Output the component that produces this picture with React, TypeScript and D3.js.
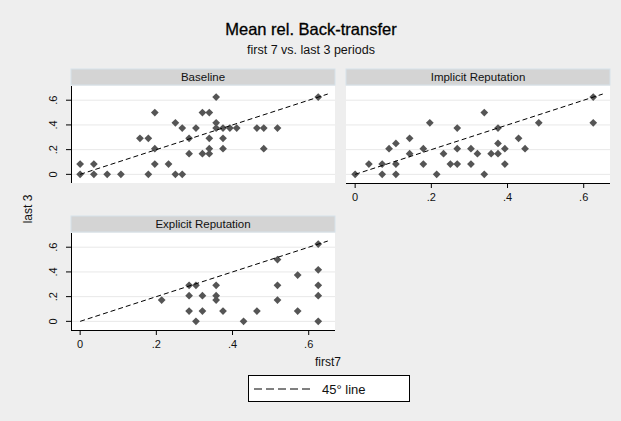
import React from "react";
import * as d3 from "d3";

// first7 / last3 pairs per treatment
const baselineFirst7 = [0, 0, 0.036, 0.036, 0.071, 0.107, 0.157, 0.179, 0.179, 0.196, 0.196, 0.196, 0.232, 0.25, 0.25, 0.268, 0.268, 0.286, 0.286, 0.304, 0.321, 0.339, 0.321, 0.339, 0.339, 0.339, 0.357, 0.357, 0.357, 0.375, 0.375, 0.375, 0.393, 0.411, 0.464, 0.482, 0.482, 0.518, 0.625];
const baselineLast3 = [0.083, 0, 0.083, 0, 0, 0, 0.292, 0.292, 0, 0.5, 0.208, 0.083, 0.083, 0.417, 0, 0, 0.375, 0.292, 0.167, 0.375, 0.5, 0.5, 0.167, 0.167, 0.292, 0.208, 0.625, 0.417, 0.375, 0.375, 0.292, 0.208, 0.375, 0.375, 0.375, 0.375, 0.208, 0.375, 0.625];

const implicitFirst7 = [0, 0.036, 0.071, 0.071, 0.089, 0.107, 0.107, 0.107, 0.143, 0.143, 0.179, 0.179, 0.196, 0.214, 0.232, 0.25, 0.268, 0.268, 0.268, 0.304, 0.304, 0.321, 0.339, 0.339, 0.357, 0.375, 0.375, 0.375, 0.393, 0.393, 0.429, 0.446, 0.482, 0.625, 0.625];
const implicitLast3 = [0, 0.083, 0.083, 0, 0.208, 0.25, 0.083, 0, 0.292, 0.167, 0.208, 0.083, 0.417, 0, 0.167, 0.083, 0.375, 0.208, 0.083, 0.208, 0.083, 0.167, 0.5, 0, 0.167, 0.375, 0.25, 0.167, 0.208, 0.083, 0.292, 0.208, 0.417, 0.625, 0.417];

const explicitFirst7 = [0.214, 0.286, 0.286, 0.286, 0.304, 0.304, 0.321, 0.321, 0.357, 0.357, 0.357, 0.375, 0.429, 0.464, 0.518, 0.518, 0.518, 0.571, 0.571, 0.625, 0.625, 0.625, 0.625, 0.625];
const explicitLast3 = [0.172, 0.292, 0.208, 0.083, 0.292, 0, 0.208, 0.083, 0.292, 0.208, 0.172, 0.083, 0, 0.083, 0.5, 0.292, 0.172, 0.375, 0.083, 0.625, 0.417, 0.292, 0.208, 0];

const xTicks = [0, 0.2, 0.4, 0.6];
const yTicks = [0, 0.2, 0.4, 0.6];
const tickLabel = (v: number) => (v === 0 ? "0" : d3.format(".1f")(v).replace(/^0/, ""));
const lineRange = [0, 0.65];

const W = 621;
const H = 421;
const FONT = "Liberation Sans, Arial, sans-serif";

type Panel = {
  title: string;
  xs: number[];
  ys: number[];
  left: number;
  top: number;
  showY: boolean;
  showX: boolean;
};

const panels: Panel[] = [
  { title: "Baseline", xs: baselineFirst7, ys: baselineLast3, left: 71, top: 86, showY: true, showX: false },
  { title: "Implicit Reputation", xs: implicitFirst7, ys: implicitLast3, left: 346, top: 86, showY: false, showX: true },
  { title: "Explicit Reputation", xs: explicitFirst7, ys: explicitLast3, left: 71, top: 233, showY: true, showX: true },
];

const PW = 264;
const PH = 97;
const diamond = d3.symbol().type(d3.symbolSquare).size(30)();

function PanelView({ p }: { p: Panel }) {
  const x = d3.scaleLinear().domain([-0.024, 0.669]).range([p.left, p.left + PW]);
  const y = d3.scaleLinear().domain([-0.07, 0.715]).range([p.top + PH, p.top]);
  const line = d3.line<number>().x((d) => x(d)).y((d) => y(d));
  return (
    <g>
      <rect x={p.left} y={p.top - 17} width={PW} height={16} fill="#d4d4d4" stroke="#d6e2ea" strokeWidth={1} />
      <text x={p.left + PW / 2} y={p.top - 5} textAnchor="middle" fontSize={11.5} fill="#111">{p.title}</text>
      <rect x={p.left} y={p.top} width={PW} height={PH} fill="#ffffff" />
      {yTicks.map((t) => (
        <line key={t} x1={p.left} x2={p.left + PW} y1={y(t)} y2={y(t)} stroke="#e8e8e8" strokeWidth={1} />
      ))}
      {p.xs.map((v, i) => (
        <path key={i} d={diamond as string} transform={`translate(${x(v)},${y(p.ys[i])}) rotate(45)`} fill="#555555" />
      ))}
      <path d={line(lineRange) as string} fill="none" stroke="#000" strokeWidth={1} strokeDasharray="5,3" />
      {p.showY && (
        <g>
          <line x1={p.left + 0.5} x2={p.left + 0.5} y1={p.top} y2={p.top + PH} stroke="#000" />
          {yTicks.map((t) => (
            <g key={t}>
              <line x1={p.left - 5} x2={p.left} y1={y(t)} y2={y(t)} stroke="#000" />
              <text transform={`translate(${p.left - 14},${y(t)}) rotate(-90)`} textAnchor="middle" fontSize={11} fill="#111">{tickLabel(t)}</text>
            </g>
          ))}
        </g>
      )}
      {p.showX && (
        <g>
          <line x1={p.left} x2={p.left + PW} y1={p.top + PH + 0.5} y2={p.top + PH + 0.5} stroke="#000" />
          {xTicks.map((t) => (
            <g key={t}>
              <line x1={x(t)} x2={x(t)} y1={p.top + PH} y2={p.top + PH + 5} stroke="#000" />
              <text x={x(t)} y={p.top + PH + 18} textAnchor="middle" fontSize={11} fill="#111">{tickLabel(t)}</text>
            </g>
          ))}
        </g>
      )}
    </g>
  );
}

export default function App() {
  return (
    <svg width={W} height={H} style={{ position: "absolute", left: 0, top: 0, fontFamily: FONT }}>
      <rect width={W} height={H} fill="#eeeeee" />
      <text x={311} y={35} textAnchor="middle" fontSize={16.5} fill="#000" stroke="#000" strokeWidth={0.3}>Mean rel. Back-transfer</text>
      <text x={311} y={54} textAnchor="middle" fontSize={12.5} fill="#111">first 7 vs. last 3 periods</text>
      {panels.map((p) => (
        <PanelView key={p.title} p={p} />
      ))}
      <text transform="translate(32,209) rotate(-90)" textAnchor="middle" fontSize={12} fill="#111">last 3</text>
      <text x={328} y={366} textAnchor="middle" fontSize={12} fill="#111">first7</text>
      <rect x={248.5} y={375.5} width={161} height={26} fill="#fff" stroke="#000" />
      <line x1={254} x2={314} y1={389} y2={389} stroke="#000" strokeDasharray="8,4" />
      <text x={322} y={393.5} fontSize={13} fill="#111">45° line</text>
    </svg>
  );
}
